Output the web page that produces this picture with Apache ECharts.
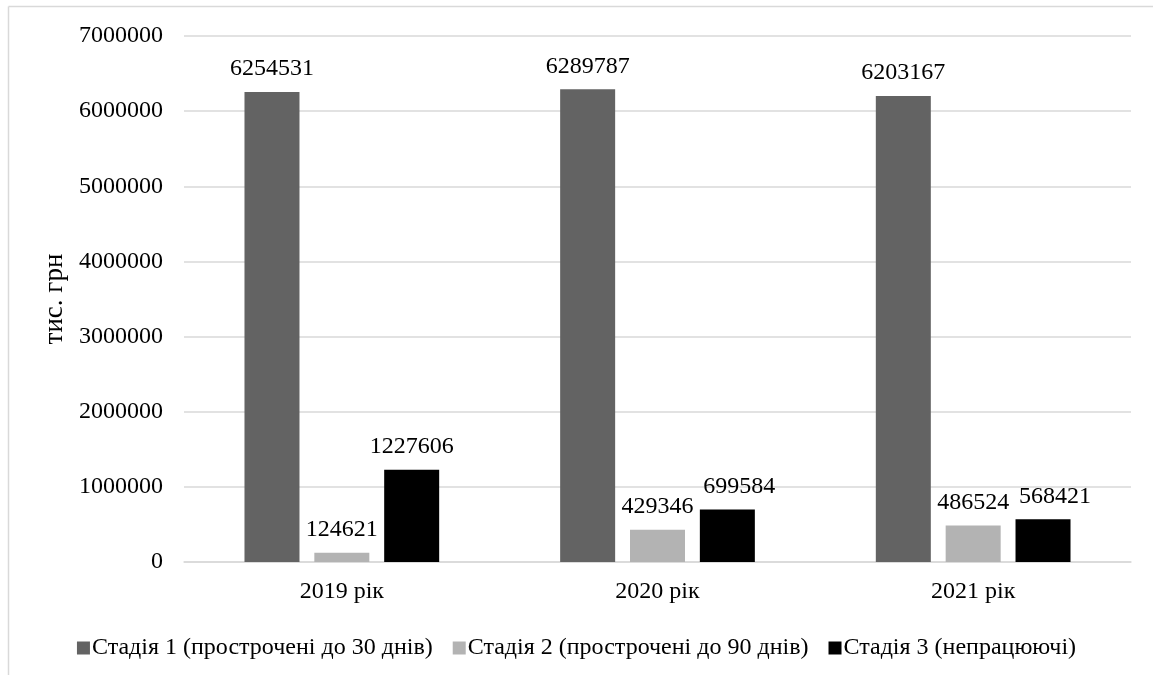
<!DOCTYPE html>
<html>
<head>
<meta charset="utf-8">
<script src="https://cdn.jsdelivr.net/npm/echarts@6/dist/echarts.min.js"></script>
<style>html,body{margin:0;padding:0;background:#fff}#c{width:1153px;height:675px}</style>
</head>
<body>
<div id="c"></div>
<script>
var categories = ['2019 рік', '2020 рік', '2021 рік'];
var seriesNames = ['Стадія 1 (прострочені до 30 днів)', 'Стадія 2 (прострочені до 90 днів)', 'Стадія 3 (непрацюючі)'];
var stage1 = [6254531, 6289787, 6203167];
var stage2 = [124621, 429346, 486524];
var stage3 = [1227606, 699584, 568421];
var colors = ['#636363', '#b3b3b3', '#000000'];

var font = 'Liberation Serif, Times New Roman, serif';
var chart = echarts.init(document.getElementById('c'), null, {renderer: 'canvas'});
function mk(name, data, color) {
  return {
    name: name, type: 'bar', data: data, barWidth: 55, barGap: '27%',
    itemStyle: {color: color},
    label: {show: true, position: 'top', distance: 11, color: '#000', fontFamily: font, fontSize: 24},
    emphasis: {disabled: true}
  };
}
// stage 3 labels nudged right where they would collide with stage 2 labels (as in the source)
var stage3Data = stage3.map(function (v, i) {
  return i > 0 ? {value: v, label: {offset: [12, 0]}} : v;
});
chart.setOption({
  animation: false,
  backgroundColor: '#fff',
  graphic: [
    {type: 'line', shape: {x1: 8.5, y1: 6.5, x2: 1153, y2: 6.5}, style: {stroke: '#d9d9d9', lineWidth: 1.5}},
    {type: 'line', shape: {x1: 8.5, y1: 6.5, x2: 8.5, y2: 675}, style: {stroke: '#d9d9d9', lineWidth: 1.5}}
  ],
  grid: {left: 184, right: 22, top: 36, bottom: 113},
  legend: {
    top: 631, left: 'center', itemWidth: 13, itemHeight: 13, itemGap: 20,
    icon: 'rect',
    textStyle: {fontFamily: font, fontSize: 24, color: '#000', padding: [0, 0, 0, -3]},
    data: seriesNames
  },
  xAxis: {
    type: 'category', data: categories,
    axisLine: {lineStyle: {color: '#d9d9d9', width: 1.5}},
    axisTick: {show: false},
    axisLabel: {fontFamily: font, fontSize: 24, color: '#000', margin: 18}
  },
  yAxis: {
    type: 'value', min: 0, max: 7000000, interval: 1000000,
    name: 'тис. грн', nameLocation: 'middle', nameRotate: 90, nameGap: 112,
    nameTextStyle: {fontFamily: font, fontSize: 27, color: '#000'},
    axisLine: {show: false}, axisTick: {show: false},
    axisLabel: {fontFamily: font, fontSize: 24, color: '#000', margin: 21, formatter: function (v) { return String(v); }},
    splitLine: {lineStyle: {color: '#d9d9d9', width: 1.5}}
  },
  series: [mk(seriesNames[0], stage1, colors[0]), mk(seriesNames[1], stage2, colors[1]), mk(seriesNames[2], stage3Data, colors[2])]
});
</script>
</body>
</html>
